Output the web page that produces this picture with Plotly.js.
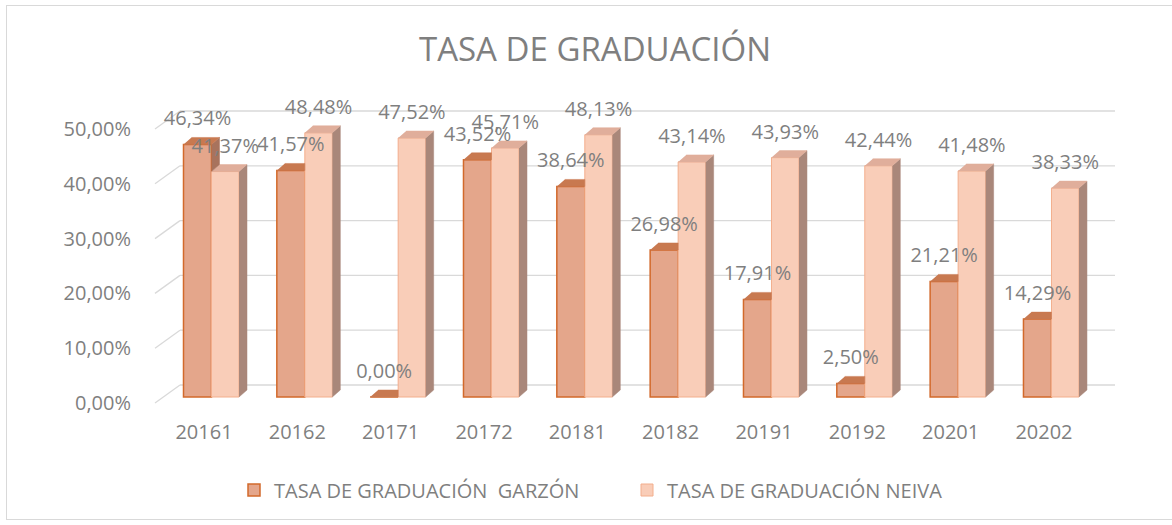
<!DOCTYPE html>
<html>
<head>
<meta charset="utf-8">
<script src="https://cdn.plot.ly/plotly-3.0.1.min.js"></script>
<style>
  html, body { margin: 0; padding: 0; background: #ffffff; }
  #frame { position: absolute; left: 6px; top: 5px; width: 1170px; height: 515px; border: 1px solid #D9D9D9; border-right: none; box-sizing: border-box; }
  #chart { position: absolute; left: 0; top: 0; width: 1172px; height: 525px; }
</style>
</head>
<body>
<div id="frame"></div>
<div id="chart"></div>
<script>
// ---- data ----
const categories = ['20161', '20162', '20171', '20172', '20181', '20182', '20191', '20192', '20201', '20202'];
const garzon = [46.34, 41.57, 0.00, 43.52, 38.64, 26.98, 17.91, 2.50, 21.21, 14.29];
const neiva  = [41.37, 48.48, 47.52, 45.71, 48.13, 43.14, 43.93, 42.44, 41.48, 38.33];
const yTicks = [0, 10, 20, 30, 40, 50];
const seriesNames = ['TASA DE GRADUACIÓN\u00a0 GARZÓN', 'TASA DE GRADUACIÓN NEIVA'];

// ---- geometry (pixel sizes converted to axis units) ----
const PX_X = 93.33, PX_YB = 5.45, PX_YG = 5.48;
const gOff = -20.5 / PX_X, gW = 28 / PX_X;
const nOff = 7.5 / PX_X,  nW = 27.5 / PX_X;
const DX = 8 / PX_X, DY = 7 / PX_YB;
const idx = categories.map((c, i) => i);

const colors = {
  gFront: '#E4A68B', gLine: '#D2692B', gTop: '#C87950', gSide: '#A8735D',
  nFront: '#F9CDB8', nLine: '#F3AE8C', nTop: '#E0AE9B', nSide: '#A9877A',
  text: '#7F7F7F', grid: '#D9D9D9'
};

function polys(list) {
  const x = [], y = [];
  list.forEach(p => { p.forEach(pt => { x.push(pt[0]); y.push(pt[1]); }); x.push(null); y.push(null); });
  return {x, y};
}

const nSide = [], nTopP = [], gSide = [], gTopP = [];
idx.forEach(i => {
  const G = garzon[i], N = neiva[i];
  const nl = i + nOff, nr = i + nOff + nW;
  nSide.push([[nr, 0], [nr + DX, DY], [nr + DX, N + DY], [nr, N]]);
  nTopP.push([[nl, N], [nr, N], [nr + DX, N + DY], [nl + DX, N + DY]]);
  const gl = i + gOff, gr = i + gOff + gW;
  if (G > N) {
    gSide.push([[gr, N], [gr + DX, N + DY], [gr + DX, G + DY], [gr, G]]);
    gTopP.push([[gl, G], [gr, G], [gr + DX, G + DY], [gl + DX, G + DY]]);
  } else {
    gTopP.push([[gl, G], [gr, G], [gr, G + DY], [gl + DX, G + DY]]);
  }
});

function faceTrace(list, color) {
  const p = polys(list);
  return { type: 'scatter', mode: 'lines', x: p.x, y: p.y, fill: 'toself', fillcolor: color,
           line: {color: color, width: 0.5}, showlegend: false, hoverinfo: 'skip', yaxis: 'y' };
}

const fmt = v => v.toFixed(2).replace('.', ',') + '%';
const labelOffset = 24 / PX_YB;

const traces = [
  { type: 'bar', name: seriesNames[0], x: idx, y: garzon, offset: gOff, width: gW,
    marker: {color: colors.gFront, line: {color: colors.gLine, width: 1.5}}, hoverinfo: 'skip' },
  { type: 'bar', name: seriesNames[1], x: idx, y: neiva, offset: nOff, width: nW,
    marker: {color: colors.nFront, line: {color: colors.nLine, width: 1}}, hoverinfo: 'skip' },
  faceTrace(nSide, colors.nSide),
  faceTrace(nTopP, colors.nTop),
  faceTrace(gSide, colors.gSide),
  faceTrace(gTopP, colors.gTop),
  { type: 'scatter', mode: 'text', x: idx.map(i => i + gOff + gW / 2), y: garzon.map(v => v + labelOffset),
    text: garzon.map(fmt), textposition: 'middle center', cliponaxis: false,
    textfont: {size: 20, color: colors.text, family: 'Open Sans, sans-serif'}, showlegend: false, hoverinfo: 'skip' },
  { type: 'scatter', mode: 'text', x: idx.map(i => i + nOff + nW / 2), y: neiva.map(v => v + labelOffset),
    text: neiva.map(fmt), textposition: 'middle center', cliponaxis: false,
    textfont: {size: 20, color: colors.text, family: 'Open Sans, sans-serif'}, showlegend: false, hoverinfo: 'skip' },
  // empty trace so that the tick-label axis is drawn
  { type: 'scatter', mode: 'markers', x: [], y: [], yaxis: 'y3', showlegend: false, hoverinfo: 'skip' }
];

// ---- plot-area geometry ----
const T = 90, B = 405, H = B - T;
const yBarMin = -(B - 397) / PX_YB;
const yGridMin = -(B - 385) / PX_YG;
const yLabMin = -(B - 403) / PX_YG;
const xFront = (155 - 204) / PX_X, xBack = (180 - 204) / PX_X, xRight = (1115 - 204) / PX_X;

const shapes = [];
yTicks.forEach(v => {
  shapes.push({type: 'line', layer: 'below', xref: 'x', yref: 'y2', x0: xFront, y0: v - 18 / PX_YG, x1: xBack, y1: v,
               line: {color: colors.grid, width: 1.3}});
  shapes.push({type: 'line', layer: 'below', xref: 'x', yref: 'y2', x0: xBack, y0: v, x1: xRight, y1: v,
               line: {color: colors.grid, width: 1.3}});
});

const layout = {
  width: 1172, height: 525,
  margin: {l: 150, r: 52, t: T, b: 525 - B},
  paper_bgcolor: 'rgba(0,0,0,0)', plot_bgcolor: 'rgba(0,0,0,0)',
  separators: ',.',
  font: {family: 'Open Sans, sans-serif', color: colors.text, size: 20},
  title: {text: 'TASA DE GRADUACIÓN', xref: 'container', yref: 'container', x: 595 / 1172, xanchor: 'center',
          y: 1 - 49 / 525, yanchor: 'middle', font: {size: 33, color: colors.text, family: 'Open Sans, sans-serif'}},
  barmode: 'overlay',
  showlegend: true,
  legend: {orientation: 'h', xref: 'container', yref: 'container', x: 234 / 1172, xanchor: 'left',
           entrywidth: 348, entrywidthmode: 'pixels',
           y: 1 - 490 / 525, yanchor: 'middle', font: {size: 20, color: colors.text}, itemclick: false, itemdoubleclick: false},
  xaxis: {range: [(150 - 204) / PX_X, (1120 - 204) / PX_X], tickmode: 'array', tickvals: idx, ticktext: categories,
          showgrid: false, zeroline: false, showline: false, ticks: 'outside', ticklen: 9, tickcolor: 'rgba(0,0,0,0)',
          tickfont: {size: 20, color: colors.text}, fixedrange: true},
  yaxis: {range: [yBarMin, yBarMin + H / PX_YB], visible: false, fixedrange: true},
  yaxis2: {range: [yGridMin, yGridMin + H / PX_YG], overlaying: 'y', anchor: 'x', visible: false, fixedrange: true},
  yaxis3: {range: [yLabMin, yLabMin + H / PX_YG], overlaying: 'y', anchor: 'x', side: 'left',
           tickmode: 'array', tickvals: yTicks, ticktext: yTicks.map(fmt),
           showgrid: false, zeroline: false, showline: false, ticks: 'outside', ticklen: 14, tickcolor: 'rgba(0,0,0,0)',
           tickfont: {size: 20, color: colors.text}, fixedrange: true},
  shapes: shapes
};

Plotly.newPlot('chart', traces, layout, {staticPlot: true, displayModeBar: false});
</script>
</body>
</html>
